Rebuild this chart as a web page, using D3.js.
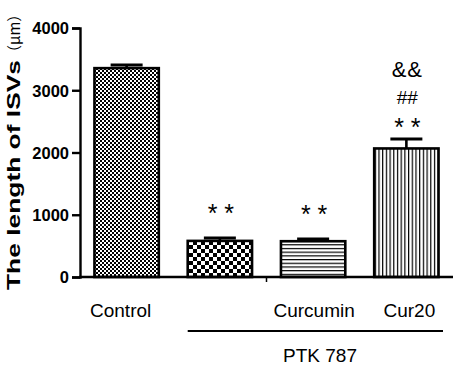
<!DOCTYPE html>
<html>
<head>
<meta charset="utf-8">
<script src="https://cdn.jsdelivr.net/npm/d3@7"></script>
<style>
  body { margin: 0; background: #fff; }
  text { font-family: Arial, "Liberation Sans", sans-serif; }
</style>
</head>
<body>
<div id="chart"></div>
<script>
// data
var groups = ["Control", "PTK", "Curcumin", "Cur20"];
var labels = ["Control", "", "Curcumin", "Cur20"];
var means = [3355, 580, 575, 2065];
var errors = [50, 45, 35, 150];
var marks = [[], ["* *"], ["* *"], ["* *", "##", "&&"]];
var yTicks = [0, 1000, 2000, 3000, 4000];

var W = 457, H = 365;
var svg = d3.select("#chart").append("svg")
    .attr("width", W)
    .attr("height", H);

// fill patterns
var defs = svg.append("defs");
var p1 = defs.append("pattern").attr("id", "fineChk")
    .attr("patternUnits", "userSpaceOnUse").attr("width", 4).attr("height", 4);
p1.append("rect").attr("width", 4).attr("height", 4).attr("fill", "#fff");
p1.append("rect").attr("width", 2).attr("height", 2).attr("fill", "#000");
p1.append("rect").attr("x", 2).attr("y", 2).attr("width", 2).attr("height", 2).attr("fill", "#000");

var p2 = defs.append("pattern").attr("id", "bigChk")
    .attr("patternUnits", "userSpaceOnUse").attr("width", 8).attr("height", 8)
    .attr("x", 1).attr("y", 1);
p2.append("rect").attr("width", 8).attr("height", 8).attr("fill", "#fff");
p2.append("rect").attr("width", 4).attr("height", 4).attr("fill", "#000");
p2.append("rect").attr("x", 4).attr("y", 4).attr("width", 4).attr("height", 4).attr("fill", "#000");

var p3 = defs.append("pattern").attr("id", "hLines")
    .attr("patternUnits", "userSpaceOnUse").attr("width", 8).attr("height", 3.7);
p3.append("rect").attr("width", 8).attr("height", 3.7).attr("fill", "#fff");
p3.append("rect").attr("width", 8).attr("height", 1.2).attr("fill", "#000");

var p4 = defs.append("pattern").attr("id", "vLines")
    .attr("patternUnits", "userSpaceOnUse").attr("width", 3.7).attr("height", 8)
    .attr("x", 1);
p4.append("rect").attr("width", 3.7).attr("height", 8).attr("fill", "#fff");
p4.append("rect").attr("width", 1.2).attr("height", 8).attr("fill", "#000");

var fills = ["url(#fineChk)", "url(#bigChk)", "url(#hLines)", "url(#vLines)"];

// scales
var x = d3.scaleBand()
    .domain(groups)
    .range([80, 453])
    .paddingInner(0.31)
    .paddingOuter(0.155);

var y = d3.scaleLinear()
    .domain([0, 4000])
    .range([277, 28]);

// bars
svg.selectAll(".bar")
    .data(groups)
    .enter()
    .append("rect")
    .attr("class", "bar")
    .attr("x", d => x(d))
    .attr("y", (d, i) => y(means[i]))
    .attr("width", x.bandwidth())
    .attr("height", (d, i) => y(0) - y(means[i]))
    .attr("fill", (d, i) => fills[i])
    .attr("stroke", "#000")
    .attr("stroke-width", 2.6);

// error bars (upper only)
groups.forEach(function (g, i) {
    var cx = x(g) + x.bandwidth() / 2;
    svg.append("line")
        .attr("x1", cx).attr("x2", cx)
        .attr("y1", y(means[i])).attr("y2", y(means[i] + errors[i]))
        .attr("stroke", "#000").attr("stroke-width", 2.6);
    svg.append("line")
        .attr("x1", cx - 16).attr("x2", cx + 16)
        .attr("y1", y(means[i] + errors[i])).attr("y2", y(means[i] + errors[i]))
        .attr("stroke", "#000").attr("stroke-width", 3);
});

// y axis
var yAxis = d3.axisLeft(y)
    .tickValues(yTicks)
    .tickSize(8)
    .tickPadding(3)
    .tickFormat(d3.format("d"));

var gy = svg.append("g")
    .attr("transform", "translate(80,0)")
    .call(yAxis);
gy.select(".domain").attr("stroke-width", 2.4);
gy.selectAll(".tick line").attr("stroke-width", 2.4);
gy.selectAll(".tick text")
    .attr("font-size", 16.5)
    .attr("font-weight", "bold")
    .attr("fill", "#000")
    .attr("dy", "0.36em");

// x axis line
svg.append("line")
    .attr("x1", 79).attr("x2", 453)
    .attr("y1", y(0)).attr("y2", y(0))
    .attr("stroke", "#000").attr("stroke-width", 2.4);

// small tick between PTK and Curcumin
var midTick = (x("PTK") + x.bandwidth() + x("Curcumin")) / 2;
svg.append("line")
    .attr("x1", midTick).attr("x2", midTick)
    .attr("y1", y(0)).attr("y2", y(0) + 5)
    .attr("stroke", "#000").attr("stroke-width", 1.5);

// category labels
svg.selectAll(".cat")
    .data(groups)
    .enter()
    .append("text")
    .attr("class", "cat")
    .attr("x", (d, i) => x(d) + x.bandwidth() / 2 + (i === 0 ? -6 : (i === 2 ? 1 : 3)))
    .attr("y", 317)
    .attr("text-anchor", "middle")
    .attr("font-size", 19)
    .text((d, i) => labels[i]);

// PTK 787 group bracket
svg.append("line")
    .attr("x1", x("PTK")).attr("x2", 443)
    .attr("y1", 331).attr("y2", 331)
    .attr("stroke", "#000").attr("stroke-width", 2);
svg.append("text")
    .attr("x", 320)
    .attr("y", 362)
    .attr("text-anchor", "middle")
    .attr("font-size", 19)
    .text("PTK 787");

// significance marks
groups.forEach(function (g, i) {
    var cx = x(g) + x.bandwidth() / 2;
    var top = y(means[i] + errors[i]);
    var base = i === 3 ? top - 3 : top - 16;
    marks[i].forEach(function (m, j) {
        svg.append("text")
            .attr("x", cx + 1)
            .attr("y", m === "* *" ? base : base - 32 - (j - 1) * 27)
            .attr("text-anchor", "middle")
            .attr("font-size", m === "&&" ? 22 : (m === "##" ? 19 : 25))
            .attr("letter-spacing", m === "&&" ? 1 : 0)
            .text(m);
    });
});

// y axis title
var yt = svg.append("text")
    .attr("transform", "translate(20,290) rotate(-90)")
    .attr("text-anchor", "start");
yt.append("tspan")
    .attr("font-size", 18)
    .attr("font-weight", "bold")
    .attr("textLength", 230)
    .attr("lengthAdjust", "spacingAndGlyphs")
    .text("The length of ISVs");
yt.append("tspan")
    .attr("font-size", 15)
    .attr("font-family", "'Noto Sans CJK SC', sans-serif")
    .text("（μm）");
</script>
</body>
</html>
